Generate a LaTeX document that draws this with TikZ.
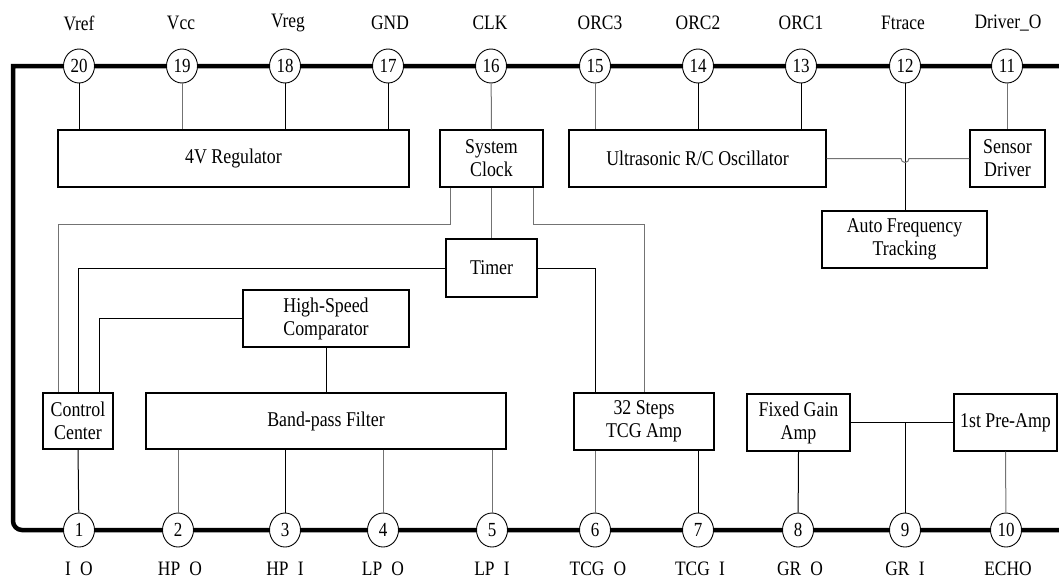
\documentclass[tikz,border=0pt]{standalone}
\usepackage{fontspec}
\setmainfont{Liberation Serif}[FakeStretch=0.85]
\usetikzlibrary{shapes.geometric}
\begin{document}
\begin{tikzpicture}[x=1pt,y=-1pt,
  busline/.style={line width=4.5pt,black},
  pin/.style={ellipse,draw,line width=0.9pt,fill=white,minimum width=31pt,minimum height=34pt,inner sep=0pt,font=\fontsize{20}{22}\selectfont},
  blk/.style={draw,line width=1.1pt,fill=white,inner sep=0pt,align=center,font=\fontsize{21}{23}\selectfont,minimum height=57pt},
  lbl/.style={font=\fontsize{20.5}{22}\selectfont,inner sep=0pt},
  gl/.style={line width=1pt,black!55},
  bl/.style={line width=1pt,black}]
\useasboundingbox (0,0) rectangle (1059,581);
% bus
\coordinate (tr) at (1059,66);
\coordinate (tl) at (13,66);
\coordinate (bl) at (13,530);
\coordinate (br) at (1059,530);
\draw[busline] (tr) -- (tl) -- (13,300) [rounded corners=9pt] -- (bl) -- (br);
% blocks
\node[blk,minimum width=351pt] (reg) at (233.5,158.5) {4V Regulator};
\node[blk,minimum width=103pt] (clk) at (491.5,158.5) {System\\Clock};
\node[blk,minimum width=257pt] (osc) at (697.5,158.5) {Ultrasonic R/C Oscillator};
\node[blk,minimum width=75pt] (sdrv) at (1007.5,158.5) {Sensor\\Driver};
\node[blk,minimum width=165pt] (aft) at (904.5,239.5) {Auto Frequency\\Tracking};
\node[blk,minimum width=91pt,minimum height=58pt] (timer) at (491.5,268) {Timer};
\node[blk,minimum width=166pt] (hsc) at (326,318.5) {High-Speed\\Comparator};
\node[blk,minimum width=70pt,minimum height=56pt] (cc) at (78,421) {Control\\Center};
\node[blk,minimum width=360pt,minimum height=56pt] (bpf) at (326,421) {Band-pass Filter};
\node[blk,minimum width=140pt] (tcg) at (644,421.5) {32 Steps\\TCG Amp};
\node[blk,minimum width=103pt] (fga) at (798.5,422.5) {Fixed Gain\\Amp};
\node[blk,minimum width=103pt] (pre) at (1005.5,422.5) {1st Pre-Amp};
% pins
\foreach \n/\x in {20/79,19/182,18/285,17/388,16/491,15/595,14/698,13/801,12/905,11/1007}
  \node[pin] (p\n) at (\x,66) {\n};
\foreach \n/\x in {1/79,2/178,3/285,4/383,5/492,6/595,7/698,8/798,9/905,10/1006}
  \node[pin] (p\n) at (\x,530) {\n};
% top labels
\foreach \t/\x in {Vref/79,Vcc/181,Vreg/288,GND/390,CLK/490,ORC3/600,ORC2/698,ORC1/801,Ftrace/903}
  \node[lbl] at (\x,23) {\t};
\node[lbl] (ldrv) at (1008,23) {Driver\_O};
% bottom labels
\node[lbl] (l1) at (79,569) {I\hspace{0.45em}O};
\node[lbl] (l2) at (180,569) {HP\hspace{0.45em}O};
\node[lbl] (l3) at (285,569) {HP\hspace{0.45em}I};
\node[lbl] (l4) at (383,569) {LP\hspace{0.45em}O};
\node[lbl] (l5) at (492,569) {LP\hspace{0.45em}I};
\node[lbl] (l6) at (598,569) {TCG\hspace{0.45em}O};
\node[lbl] (l7) at (700,569) {TCG\hspace{0.45em}I};
\node[lbl] (l8) at (800,569) {GR\hspace{0.45em}O};
\node[lbl] (l9) at (905,569) {GR\hspace{0.45em}I};
\node[lbl] (l10) at (1008,569) {ECHO};
% top connectors
\draw[bl] (p20) -- (p20 |- reg.north);
\draw[gl] (p19) -- (p19 |- reg.north);
\draw[bl] (p18) -- (p18 |- reg.north);
\draw[bl] (p17) -- (p17 |- reg.north);
\draw[gl] (p16) -- (clk.north);
\draw[gl] (p15) -- (p15 |- osc.north);
\draw[bl] (p14) -- (p14 |- osc.north);
\draw[bl] (p13) -- (p13 |- osc.north);
\draw[bl] (p12) -- (p12 |- aft.north);
\draw[gl] (p11) -- (p11 |- sdrv.north);
\draw[gl] (osc.east) -- ([xshift=-4pt]p12 |- osc.east) arc[start angle=180,end angle=360,radius=4pt] -- (sdrv.west);
% clock / timer connectors
\draw[gl] ([xshift=-41.5pt]clk.south) -- ++(0,37) -| ([xshift=-20pt]cc.north);
\draw[gl] ([xshift=41.5pt]clk.south) -- ++(0,37) -| (tcg.north);
\draw[gl] (clk.south) -- (timer.north);
\draw[bl] (timer.west) -| (cc.north);
\draw[bl] (timer.east) -| ([xshift=-49pt]tcg.north);
\draw[bl] (hsc.west) -| ([xshift=21pt]cc.north);
\draw[bl] (hsc.south) -- (bpf.north);
% bottom connectors
\draw[bl] (cc.south) -- (p1);
\draw[gl] (p2 |- bpf.south) -- (p2);
\draw[bl] (p3 |- bpf.south) -- (p3);
\draw[gl] (p4 |- bpf.south) -- (p4);
\draw[gl] (p5 |- bpf.south) -- (p5);
\draw[gl] (p6 |- tcg.south) -- (p6);
\draw[bl] (p7 |- tcg.south) -- (p7);
\draw[bl] (fga.south) -- (p8);
\draw[bl] (fga.east) -- (pre.west);
\draw[bl] (p9 |- fga.east) -- (p9);
\draw[gl] (pre.south) -- (p10);
\end{tikzpicture}
\end{document}
